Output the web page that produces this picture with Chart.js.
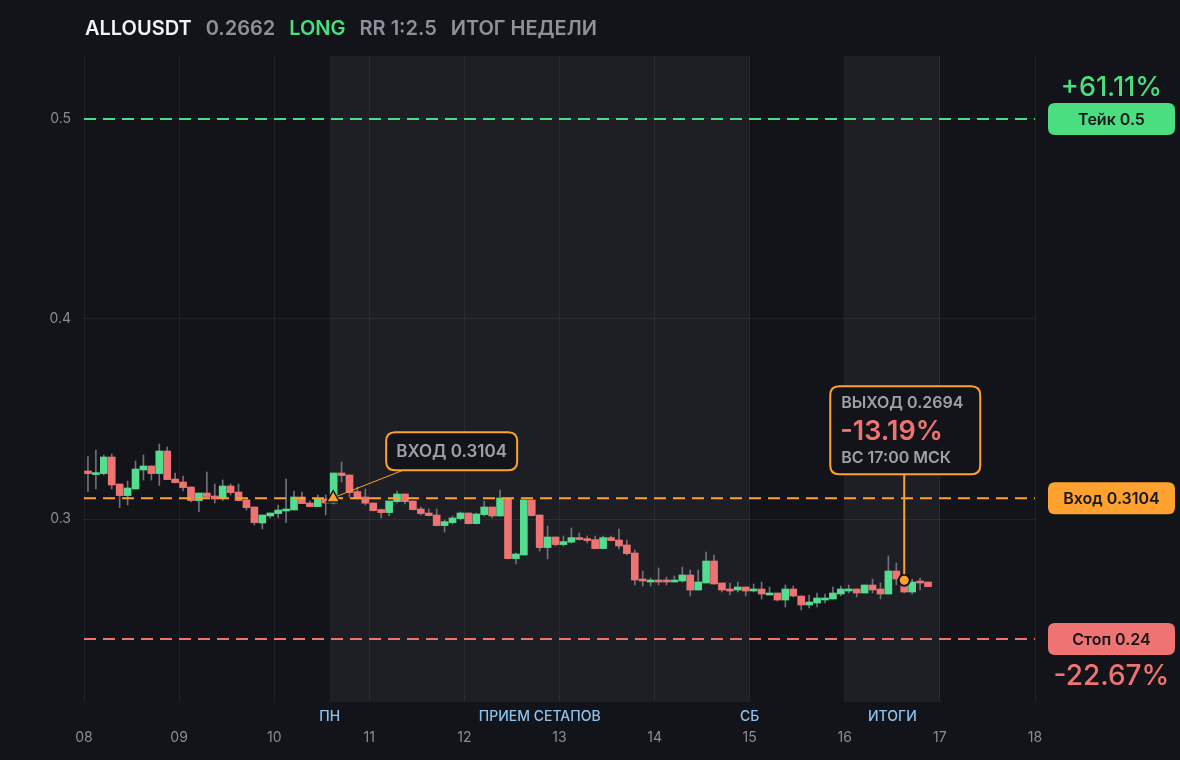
<!DOCTYPE html>
<html lang="ru">
<head>
<meta charset="utf-8">
<title>ALLOUSDT — итог недели</title>
<script src="https://cdn.jsdelivr.net/npm/chart.js@4.4.1/dist/chart.umd.min.js"></script>
<style>
    html, body { margin: 0; padding: 0; background: #131419; }
    body { width: 1180px; height: 760px; position: relative; overflow: hidden; font-family: Inter, "Noto Sans", sans-serif; }
    #zagolovok { position: absolute; left: 85px; top: 16px; font-size: 20px; font-weight: 600; line-height: 24px; white-space: nowrap; z-index: 2; }
    #zagolovok span { margin-right: 14px; }
    .tiker { color: #f2f3f5; }
    .sery { color: #8e9199; }
    .long { color: #4ade80; }
    #grafikBox { position: absolute; left: 0; top: 0; width: 1180px; height: 760px; }
</style>
</head>
<body>
<div id="zagolovok"><span class="tiker">ALLOUSDT</span><span class="sery">0.2662</span><span class="long">LONG</span><span class="sery">RR 1:2.5</span><span class="sery">ИТОГ НЕДЕЛИ</span></div>
<div id="grafikBox"><canvas id="grafikSvechi"></canvas></div>
<script>
/*global Chart*/

// Свечи по 2 часа, начиная с 08 числа
const firstDay = 8;
const candlesPerDay = 12;

const openPrices = [
    0.324, 0.3222, 0.3227, 0.331, 0.3175, 0.3117, 0.315, 0.3245, 0.3265, 0.3227,
    0.334, 0.32, 0.3185, 0.316, 0.3092, 0.313, 0.3115, 0.3107, 0.3165, 0.3135,
    0.3095, 0.306, 0.298, 0.3015, 0.3027, 0.304, 0.3045, 0.311, 0.308, 0.3062,
    0.31, 0.308, 0.323, 0.322, 0.3137, 0.311, 0.308, 0.3047, 0.3032, 0.3087,
    0.3125, 0.309, 0.305, 0.303, 0.302, 0.2967, 0.2982, 0.3002, 0.303, 0.2977,
    0.3022, 0.306, 0.3015, 0.3102, 0.2802, 0.282, 0.3095, 0.302, 0.2857, 0.291,
    0.2872, 0.2884, 0.2907, 0.2902, 0.2897, 0.2852, 0.2907, 0.2895, 0.287, 0.283,
    0.27, 0.2685, 0.2695, 0.2695, 0.2685, 0.269, 0.272, 0.2645, 0.268, 0.279,
    0.268, 0.265, 0.2645, 0.266, 0.264, 0.265, 0.262, 0.263, 0.2595, 0.265,
    0.2615, 0.257, 0.258, 0.2595, 0.26, 0.2625, 0.264, 0.265, 0.263, 0.267,
    0.265, 0.2625, 0.274, 0.269, 0.2635, 0.269, 0.2685
];
const highPrices = [
    0.3312, 0.3345, 0.332, 0.3325, 0.3175, 0.319, 0.329, 0.332, 0.3265, 0.3375,
    0.336, 0.323, 0.3215, 0.316, 0.313, 0.3235, 0.3175, 0.3195, 0.3175, 0.3175,
    0.3105, 0.306, 0.302, 0.303, 0.307, 0.32, 0.314, 0.3135, 0.309, 0.312,
    0.312, 0.323, 0.3285, 0.322, 0.316, 0.315, 0.308, 0.305, 0.309, 0.314,
    0.3125, 0.309, 0.306, 0.305, 0.305, 0.2995, 0.3015, 0.3035, 0.303, 0.303,
    0.309, 0.306, 0.3145, 0.3105, 0.283, 0.3095, 0.3095, 0.302, 0.2965, 0.291,
    0.2915, 0.2955, 0.293, 0.2915, 0.2915, 0.2915, 0.2915, 0.295, 0.2895, 0.2845,
    0.274, 0.2705, 0.2755, 0.271, 0.2715, 0.276, 0.2745, 0.2745, 0.2835, 0.282,
    0.268, 0.268, 0.2685, 0.266, 0.2675, 0.2685, 0.266, 0.263, 0.267, 0.2665,
    0.2615, 0.262, 0.263, 0.2625, 0.266, 0.2665, 0.267, 0.265, 0.267, 0.27,
    0.268, 0.2815, 0.278, 0.2705, 0.27, 0.2705, 0.2685
];
const lowPrices = [
    0.3137, 0.315, 0.322, 0.315, 0.3057, 0.307, 0.315, 0.3195, 0.3195, 0.3167,
    0.3197, 0.318, 0.314, 0.3085, 0.3037, 0.311, 0.308, 0.3092, 0.312, 0.3092,
    0.3045, 0.297, 0.295, 0.3005, 0.3005, 0.2982, 0.3045, 0.3077, 0.306, 0.3062,
    0.302, 0.3075, 0.3185, 0.311, 0.31, 0.307, 0.304, 0.3005, 0.3015, 0.308,
    0.3075, 0.3045, 0.302, 0.3015, 0.2965, 0.2935, 0.2975, 0.2995, 0.2975, 0.2975,
    0.3015, 0.3005, 0.3015, 0.28, 0.2775, 0.282, 0.3015, 0.284, 0.28, 0.2865,
    0.2865, 0.288, 0.2895, 0.288, 0.285, 0.285, 0.289, 0.285, 0.282, 0.267,
    0.2665, 0.2665, 0.267, 0.267, 0.2685, 0.2685, 0.2615, 0.2645, 0.268, 0.2675,
    0.2635, 0.262, 0.2635, 0.2615, 0.2635, 0.26, 0.262, 0.259, 0.256, 0.261,
    0.2545, 0.2555, 0.256, 0.258, 0.26, 0.2615, 0.263, 0.261, 0.263, 0.263,
    0.26, 0.2625, 0.267, 0.263, 0.2625, 0.2645, 0.2662
];
const closePrices = [
    0.3227, 0.3232, 0.331, 0.317, 0.3117, 0.3155, 0.325, 0.3265, 0.3227, 0.334,
    0.3197, 0.3182, 0.3157, 0.3092, 0.313, 0.3112, 0.31, 0.3165, 0.3132, 0.3092,
    0.3057, 0.2982, 0.302, 0.303, 0.3045, 0.305, 0.311, 0.3077, 0.3062, 0.31,
    0.308, 0.323, 0.3217, 0.3132, 0.3104, 0.3079, 0.3042, 0.3032, 0.309, 0.3125,
    0.3087, 0.3047, 0.3027, 0.3017, 0.2967, 0.2987, 0.3005, 0.303, 0.2977, 0.3025,
    0.306, 0.3015, 0.3105, 0.2802, 0.2825, 0.3095, 0.3017, 0.2857, 0.291, 0.2872,
    0.2887, 0.2907, 0.2897, 0.2892, 0.2852, 0.2907, 0.2892, 0.2865, 0.2827, 0.2695,
    0.269, 0.2695, 0.2685, 0.2685, 0.2695, 0.272, 0.2645, 0.2685, 0.279, 0.2675,
    0.2645, 0.264, 0.266, 0.264, 0.265, 0.2625, 0.263, 0.2595, 0.265, 0.2615,
    0.257, 0.2585, 0.2605, 0.2605, 0.263, 0.265, 0.265, 0.263, 0.267, 0.2645,
    0.2625, 0.274, 0.27, 0.2635, 0.2685, 0.268, 0.2662
];

// Подписи оси X (числа) и оси Y
const dayLabels = ['08', '09', '10', '11', '12', '13', '14', '15', '16', '17', '18'];
const yTicks = [0.3, 0.4, 0.5];

// Уровни сделки
const takeLevel = 0.5;
const entryLevel = 0.3104;
const stopLevel = 0.24;
const entryTime = 10.62;
const exitTime = 16.625;
const exitPrice = 0.2694;

// Подсвеченные периоды и подписи под графиком
const zoneStarts = [10.5833, 16];
const zoneEnds = [15, 17];
const periodNames = ['ПН', 'ПРИЕМ СЕТАПОВ', 'СБ', 'ИТОГИ'];
const periodTimes = [10.5833, 12.7917, 15, 16.5];

const ZELENY = '#4ade80';
const KRASNY = '#f07373';
const ORANZH = '#ffa12e';
const SERY_TEXT = '#9da1a9';
const FON = '#131419';

const candleTimes = openPrices.map((_, i) => firstDay + (i + 0.5) / candlesPerDay);
const candleColors = openPrices.map((o, i) => closePrices[i] >= o ? '#52dd8f' : KRASNY);

function ramka(ctx, x, y, w, h, r) {
    ctx.beginPath();
    ctx.moveTo(x + r, y);
    ctx.lineTo(x + w - r, y);
    ctx.quadraticCurveTo(x + w, y, x + w, y + r);
    ctx.lineTo(x + w, y + h - r);
    ctx.quadraticCurveTo(x + w, y + h, x + w - r, y + h);
    ctx.lineTo(x + r, y + h);
    ctx.quadraticCurveTo(x, y + h, x, y + h - r);
    ctx.lineTo(x, y + r);
    ctx.quadraticCurveTo(x, y, x + r, y);
    ctx.closePath();
}

const fonPlugin = {
    id: 'fonZony',
    beforeDraw(chart) {
        const { ctx, chartArea, scales: { x } } = chart;
        ctx.save();
        ctx.fillStyle = FON;
        ctx.fillRect(0, 0, chart.width, chart.height);
        ctx.fillStyle = '#1e1f24';
        zoneStarts.forEach((s, i) => {
            const x1 = x.getPixelForValue(s);
            const x2 = x.getPixelForValue(zoneEnds[i]);
            ctx.fillRect(x1, chartArea.top, x2 - x1, chartArea.bottom - chartArea.top);
        });
        ctx.restore();
    }
};

const podpisiPlugin = {
    id: 'podpisi',
    afterDatasetsDraw(chart) {
        const { ctx, scales: { x, y } } = chart;
        const ex = x.getPixelForValue(entryTime);
        const ey = y.getPixelForValue(entryLevel);
        const vx = x.getPixelForValue(exitTime);
        const vy = y.getPixelForValue(exitPrice);
        ctx.save();
        ctx.strokeStyle = ORANZH;
        // линия от подписи входа к треугольнику
        ctx.lineWidth = 1;
        ctx.beginPath();
        ctx.moveTo(ex + 70, ey - 28);
        ctx.lineTo(ex + 4, ey - 2);
        ctx.stroke();
        // линия от подписи выхода к точке
        ctx.lineWidth = 2;
        ctx.beginPath();
        ctx.moveTo(vx, vy - 106);
        ctx.lineTo(vx, vy - 6);
        ctx.stroke();
        ctx.restore();
    },
    afterDraw(chart) {
        const { ctx, chartArea, scales: { x, y } } = chart;
        ctx.save();
        ctx.textBaseline = 'middle';

        // подписи периодов под графиком
        ctx.font = '500 14px Inter';
        ctx.fillStyle = '#8cc2f0';
        ctx.textAlign = 'center';
        periodNames.forEach((t, i) => {
            ctx.fillText(t, x.getPixelForValue(periodTimes[i]), chartArea.bottom + 15);
        });

        // плашки справа
        const bx = chartArea.right + 13;
        const cx = bx + 63.5;
        const plashki = [
            { v: takeLevel, c: ZELENY, t: 'Тейк 0.5' },
            { v: entryLevel, c: ORANZH, t: 'Вход 0.3104' },
            { v: stopLevel, c: KRASNY, t: 'Стоп 0.24' }
        ];
        plashki.forEach(p => {
            const py = y.getPixelForValue(p.v);
            ctx.fillStyle = p.c;
            ramka(ctx, bx, py - 16, 127, 32, 7);
            ctx.fill();
            ctx.fillStyle = '#15171b';
            ctx.font = '600 16px Inter';
            ctx.fillText(p.t, cx, py + 1);
        });
        ctx.font = '500 27px Inter';
        ctx.fillStyle = ZELENY;
        ctx.fillText('+61.11%', cx, y.getPixelForValue(takeLevel) - 31);
        ctx.font = '500 28px Inter';
        ctx.fillStyle = KRASNY;
        ctx.fillText('-22.67%', cx, y.getPixelForValue(stopLevel) + 38);

        // подпись входа
        const ex = x.getPixelForValue(entryTime);
        const ey = y.getPixelForValue(entryLevel);
        ctx.fillStyle = FON;
        ctx.strokeStyle = ORANZH;
        ctx.lineWidth = 2;
        ramka(ctx, ex + 53, ey - 66, 131, 38, 9);
        ctx.fill();
        ctx.stroke();
        ctx.fillStyle = SERY_TEXT;
        ctx.font = '600 17px Inter';
        ctx.fillText('ВХОД 0.3104', ex + 118.5, ey - 46);

        // подпись выхода
        const vx = x.getPixelForValue(exitTime);
        const vy = y.getPixelForValue(exitPrice);
        const lx = vx - 74;
        const ty = vy - 194;
        ctx.fillStyle = FON;
        ramka(ctx, lx, ty, 150, 88, 9);
        ctx.fill();
        ctx.stroke();
        ctx.textAlign = 'left';
        ctx.fillStyle = SERY_TEXT;
        ctx.font = '600 16px Inter';
        ctx.fillText('ВЫХОД 0.2694', lx + 11, ty + 17);
        ctx.fillText('ВС 17:00 МСК', lx + 11, ty + 72);
        ctx.fillStyle = KRASNY;
        ctx.font = '600 27px Inter';
        ctx.fillText('-13.19%', lx + 10, ty + 46);
        ctx.restore();
    }
};

function urovenLinia(level, color) {
    return {
        type: 'line',
        data: [{ x: firstDay, y: level }, { x: firstDay + dayLabels.length - 1, y: level }],
        borderColor: color,
        borderWidth: 2,
        borderDash: [12, 7],
        pointRadius: 0,
        order: 1
    };
}

const grafik = new Chart(document.getElementById('grafikSvechi').getContext('2d'), {
    type: 'bar',
    data: {
        datasets: [
            {
                label: 'Тени',
                data: candleTimes.map((t, i) => ({ x: t, y: [lowPrices[i], highPrices[i]] })),
                backgroundColor: '#6e7179',
                barThickness: 1,
                grouped: false,
                order: 3
            },
            {
                label: 'Свечи',
                data: candleTimes.map((t, i) => ({ x: t, y: [openPrices[i], closePrices[i]] })),
                backgroundColor: candleColors,
                barThickness: 7,
                grouped: false,
                order: 2
            },
            urovenLinia(takeLevel, ZELENY),
            urovenLinia(entryLevel, ORANZH),
            urovenLinia(stopLevel, KRASNY),
            {
                type: 'line',
                label: 'Вход',
                data: [{ x: entryTime, y: entryLevel }],
                showLine: false,
                pointStyle: 'triangle',
                pointRadius: 7.5,
                backgroundColor: ORANZH,
                borderColor: '#111216',
                borderWidth: 1.5,
                order: 0
            },
            {
                type: 'line',
                label: 'Выход',
                data: [{ x: exitTime, y: exitPrice }],
                showLine: false,
                pointStyle: 'circle',
                pointRadius: 5.5,
                backgroundColor: ORANZH,
                borderColor: '#111216',
                borderWidth: 2,
                order: 0
            }
        ]
    },
    options: {
        responsive: true,
        maintainAspectRatio: false,
        animation: false,
        layout: { padding: { top: 56, right: 145, left: 0, bottom: 0 } },
        plugins: { legend: { display: false }, tooltip: { enabled: false } },
        scales: {
            x: {
                type: 'linear',
                offset: false,
                min: firstDay,
                max: firstDay + dayLabels.length - 1,
                border: { display: false },
                grid: { color: 'rgba(255,255,255,0.06)', drawTicks: false, offset: false },
                ticks: {
                    stepSize: 1,
                    padding: 27,
                    color: '#8a8d94',
                    font: { family: 'Inter', size: 14 },
                    maxRotation: 0,
                    autoSkip: false,
                    callback: (value, index) => dayLabels[index]
                },
                afterFit: scale => {
                    scale.height = 58;
                    scale.paddingLeft = 0;
                    scale.paddingRight = 0;
                }
            },
            y: {
                min: 0.2085,
                max: 0.5315,
                border: { display: false },
                grid: { color: 'rgba(255,255,255,0.06)', drawTicks: false },
                afterBuildTicks: scale => {
                    scale.ticks = yTicks.map(v => ({ value: v }));
                },
                ticks: {
                    padding: 13,
                    color: '#8a8d94',
                    font: { family: 'Inter', size: 14 },
                    callback: value => String(value)
                },
                afterFit: scale => {
                    scale.width = 84;
                    scale.paddingTop = 0;
                    scale.paddingBottom = 0;
                }
            }
        }
    },
    plugins: [fonPlugin, podpisiPlugin]
});
</script>
</body>
</html>
